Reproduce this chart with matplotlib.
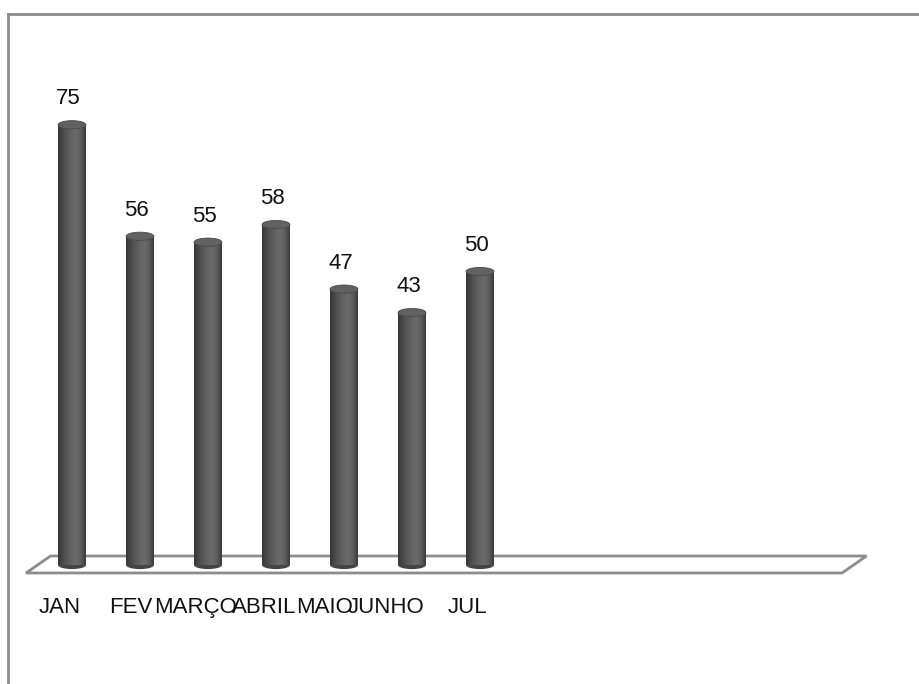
import numpy as np
import matplotlib
matplotlib.use('Agg')
from matplotlib import pyplot as plt
from matplotlib.patches import Ellipse, Polygon
from matplotlib.lines import Line2D
from matplotlib.colors import LinearSegmentedColormap

months = ['JAN', 'FEV', 'MARÇO', 'ABRIL', 'MAIO', 'JUNHO', 'JUL']
values = [75, 56, 55, 58, 47, 43, 50]
n_slots = 12  # the floor leaves room for the whole year

# the category labels sit a bit left of their bars (in slot units)
label_dx = [-0.18, -0.13, -0.19, -0.18, -0.29, -0.38, -0.19]

plt.rcParams['font.family'] = ['Liberation Sans', 'DejaVu Sans']

fig = plt.figure(figsize=(9.2, 6.84), dpi=100)
ax = fig.add_axes([0, 0, 1, 1])
ax.set_xlim(-72 / 68, 848 / 68)
ax.set_ylim(-119 / 5.87, 565 / 5.87)
ax.axis('off')

# frame round the chart area (left and top only, like the reference)
fig.add_artist(Line2D([8 / 920, 8 / 920], [0, 1 - 14 / 684], color='#8c8c8c', lw=2))
fig.add_artist(Line2D([8 / 920, 1], [1 - 14 / 684, 1 - 14 / 684], color='#8c8c8c', lw=2))

# floor
front_y, back_y = -1.36, 1.53
x0 = -0.676
shift = 0.36
floor = Polygon([(x0, front_y), (x0 + n_slots, front_y),
                 (x0 + n_slots + shift, back_y), (x0 + shift, back_y)],
                closed=True, fill=False, edgecolor='#8c8c8c', lw=2, zorder=1)
ax.add_patch(floor)

cmap = LinearSegmentedColormap.from_list(
    'cyl', ['#383838', '#4a4a4a', '#585858', '#646464', '#6a6a6a', '#5c5c5c', '#3c3c3c'])
grad = np.linspace(0, 1, 64).reshape(1, -1)

width = 0.41
ell_h = 1.4
for i, (m, v) in enumerate(zip(months, values)):
    left = i - width / 2
    bar = ax.bar(i, v, width=width, bottom=0, color='#555555', lw=0, zorder=2)[0]
    im = ax.imshow(grad, cmap=cmap, extent=(left, left + width, 0, v),
                   aspect='auto', zorder=3, interpolation='bilinear')
    im.set_clip_path(bar)
    # bottom cap
    ax.add_patch(Ellipse((i, 0), width, ell_h, facecolor='#454545', lw=0, zorder=2.5))
    # top cap
    ax.add_patch(Ellipse((i, v), width, ell_h, facecolor='#626262',
                         edgecolor='#4a4a4a', lw=0.6, zorder=4))
    ax.text(i - 0.05, v + 2.6, str(v), ha='center', va='bottom', fontsize=16, color='#111111')
    ax.text(i + label_dx[i], -5.4, m, ha='center', va='top', fontsize=16, color='#111111')

fig.savefig('out.png', dpi=100)
